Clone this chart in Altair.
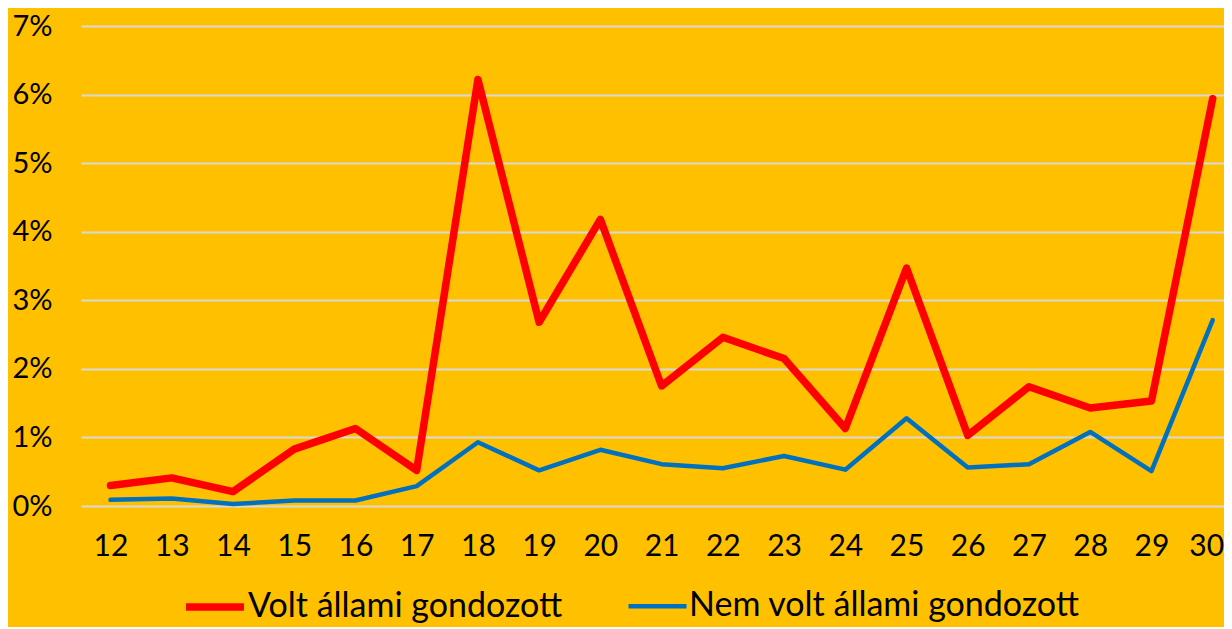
import altair as alt
import pandas as pd

ages = [12, 13, 14, 15, 16, 17, 18, 19, 20, 21, 22, 23, 24, 25, 26, 27, 28, 29, 30]
volt = [0.30, 0.41, 0.21, 0.83, 1.13, 0.52, 6.22, 2.68, 4.18, 1.75, 2.46, 2.15, 1.13, 3.47, 1.03, 1.74, 1.43, 1.53, 5.94]
nem = [0.09, 0.11, 0.03, 0.08, 0.08, 0.29, 0.93, 0.52, 0.82, 0.61, 0.55, 0.73, 0.53, 1.28, 0.56, 0.61, 1.08, 0.51, 2.71]
series = ["Volt állami gondozott", "Nem volt állami gondozott"]
colors = ["#FF0000", "#0070C0"]
widths = [7.5, 4.5]
y_ticks = [0, 0.01, 0.02, 0.03, 0.04, 0.05, 0.06, 0.07]

rows = []
for a, v in zip(ages, volt):
    rows.append({"age": a, "value": v / 100, "series": series[0]})
for a, v in zip(ages, nem):
    rows.append({"age": a, "value": v / 100, "series": series[1]})
df = pd.DataFrame(rows)

FONT = "Lato"

chart = (
    alt.Chart(df)
    .mark_line(strokeCap="round", strokeJoin="round")
    .encode(
        x=alt.X(
            "age:Q",
            scale=alt.Scale(domain=[11.518, 30.185], nice=False, zero=False),
            axis=alt.Axis(
                values=ages,
                format="d",
                title=None,
                grid=False,
                domain=False,
                ticks=False,
                tickSize=0,
                labelPadding=25,
                labelFontSize=30,
                labelFont=FONT,
                labelColor="#000000",
                labelOverlap=False,
                labelFlush=12,
                labelFlushOffset=11,
                labelBound=False,
            ),
        ),
        y=alt.Y(
            "value:Q",
            scale=alt.Scale(domain=[0, 0.07], nice=False),
            axis=alt.Axis(
                values=y_ticks,
                format=".0%",
                title=None,
                grid=True,
                gridColor="#D9D9D9",
                gridWidth=2,
                domain=False,
                ticks=False,
                tickSize=0,
                labelPadding=29,
                labelFontSize=29,
                labelFont=FONT,
                labelColor="#000000",
            ),
        ),
        color=alt.Color(
            "series:N",
            scale=alt.Scale(domain=series, range=colors),
            legend=alt.Legend(
                title=None,
                orient="none",
                direction="horizontal",
                legendX=101,
                legendY=548,
                padding=0,
                symbolType="stroke",
                symbolSize=3364,
                symbolStrokeWidth=6.5,
                labelOffset=0,
                labelFontSize=34,
                labelFont=FONT,
                labelColor="#000000",
                labelLimit=600,
                columnPadding=56,
            ),
        ),
        strokeWidth=alt.StrokeWidth(
            "series:N",
            scale=alt.Scale(domain=series, range=widths),
            legend=None,
        ),
        order=alt.Order("age:Q"),
    )
    .properties(
        width=1143,
        height=480,
        background="#FFC000",
        padding={"left": 73, "top": 18, "right": 0, "bottom": 121},
        autosize=alt.AutoSizeParams(type="none"),
    )
    .configure_view(stroke=None, fill="#FFC000")
)

chart.save("out.html", embed_options={"renderer": "svg", "actions": False})
